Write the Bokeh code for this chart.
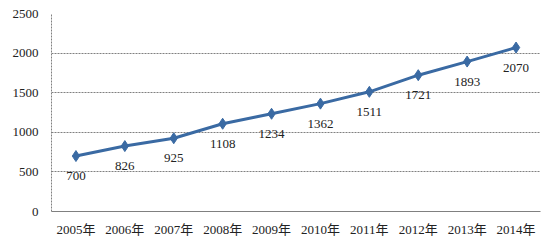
from bokeh.plotting import figure
from bokeh.models import ColumnDataSource, Range1d, FixedTicker, LabelSet
from bokeh.embed import file_html
from bokeh.resources import INLINE
from bokeh.core.properties import value

years = ["2005年", "2006年", "2007年", "2008年", "2009年", "2010年", "2011年", "2012年", "2013年", "2014年"]
values = [700, 826, 925, 1108, 1234, 1362, 1511, 1721, 1893, 2070]
y_ticks = [0, 500, 1000, 1500, 2000, 2500]

FONT = "Liberation Serif, Noto Sans CJK SC, serif"
LINE = "#3A6AA3"

src = ColumnDataSource(dict(x=years, y=values, t=[str(v) for v in values]))

p = figure(width=555, height=240, x_range=years, y_range=Range1d(0, 2500),
           output_backend="svg", toolbar_location=None,
           min_border_left=51, min_border_right=15, min_border_top=13, min_border_bottom=29)
p.outline_line_color = None
p.background_fill_color = "white"
p.border_fill_color = "white"

p.line("x", "y", source=src, line_color=LINE, line_width=3)
p.scatter("x", "y", source=src, marker="diamond", size=11, fill_color=LINE, line_color=LINE)

labels = LabelSet(x="x", y="y", text="t", source=src, y_offset=-20, text_align="center",
                  text_baseline="middle", text_font=value(FONT), text_font_size="13px",
                  text_color="#222222")
p.add_layout(labels)

p.yaxis.ticker = FixedTicker(ticks=y_ticks)
p.ygrid.ticker = FixedTicker(ticks=y_ticks)
p.ygrid.grid_line_color = "#808080"
p.ygrid.grid_line_dash = "2 1"
p.ygrid.grid_line_width = 1
p.xgrid.grid_line_color = None

p.yaxis.axis_line_color = "#808080"
p.yaxis.axis_line_dash = "2 1"
p.yaxis.major_tick_line_color = None
p.yaxis.minor_tick_line_color = None
p.yaxis.major_tick_out = 0
p.yaxis.minor_tick_out = 0
p.yaxis.major_label_text_font = FONT
p.yaxis.major_label_text_font_size = "13px"
p.yaxis.major_label_text_color = "#222222"
p.yaxis.major_label_standoff = 13

p.xaxis.axis_line_color = "#808080"
p.xaxis.major_tick_line_color = None
p.xaxis.minor_tick_line_color = None
p.xaxis.major_tick_out = 0
p.xaxis.minor_tick_out = 0
p.xaxis.major_label_text_font = FONT
p.xaxis.major_label_text_font_size = "13px"
p.xaxis.major_label_text_color = "#222222"
p.xaxis.major_label_standoff = 10
p.x_range.range_padding = 0

open("out.html", "w").write(file_html(p, INLINE))
